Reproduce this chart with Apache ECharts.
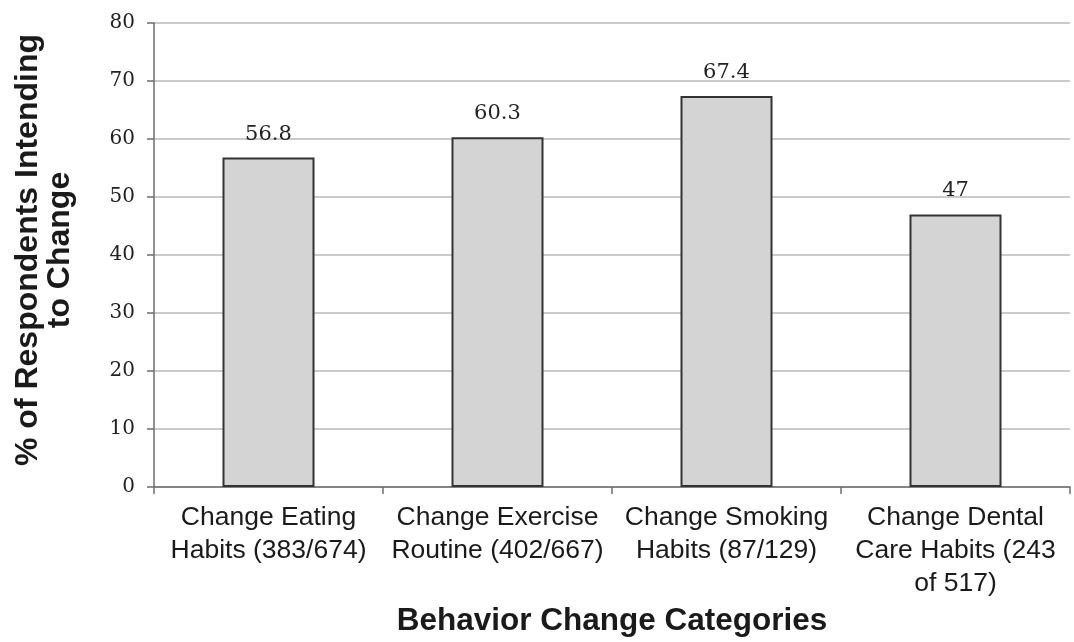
<!DOCTYPE html>
<html>
<head>
<meta charset="utf-8">
<script src="https://cdn.jsdelivr.net/npm/echarts@6/dist/echarts.min.js"></script>
<style>
  html, body { margin: 0; padding: 0; background: #fff; }
  #chart { width: 1074px; height: 642px; }
</style>
</head>
<body>
<div id="chart"></div>
<script>
// Behavior-change intentions by category
const categories = [
  'Change Eating\nHabits (383/674)',
  'Change Exercise\nRoutine (402/667)',
  'Change Smoking\nHabits (87/129)',
  'Change Dental\nCare Habits (243\nof 517)'
];
const percentIntending = [56.8, 60.3, 67.4, 47];
const yTicks = { min: 0, max: 80, step: 10 };

const chart = echarts.init(document.getElementById('chart'));

chart.setOption({
  animation: false,
  backgroundColor: '#ffffff',
  grid: { left: 154, right: 4, top: 23, bottom: 155, containLabel: false },
  xAxis: {
    type: 'category',
    data: categories,
    name: 'Behavior Change Categories',
    nameLocation: 'middle',
    nameGap: 117,
    nameTextStyle: {
      fontFamily: 'Liberation Sans, Arial, sans-serif',
      fontSize: 31.5,
      fontWeight: 'bold',
      color: '#1a1a1a'
    },
    axisLine: { show: true, lineStyle: { color: '#6e6e6e', width: 1.5 } },
    axisTick: { show: true, length: 7, alignWithLabel: false, lineStyle: { color: '#6e6e6e', width: 1.5 } },
    axisLabel: {
      interval: 0,
      margin: 14,
      fontFamily: 'Liberation Sans, Arial, sans-serif',
      fontSize: 26.5,
      lineHeight: 33,
      color: '#1a1a1a',
      align: 'center'
    },
    splitLine: { show: false }
  },
  yAxis: {
    type: 'value',
    min: yTicks.min,
    max: yTicks.max,
    interval: yTicks.step,
    name: '% of Respondents Intending\nto Change',
    nameLocation: 'middle',
    nameGap: 78,
    nameTextStyle: {
      fontFamily: 'Liberation Sans, Arial, sans-serif',
      fontSize: 32,
      fontWeight: 'bold',
      lineHeight: 32,
      color: '#1a1a1a',
      padding: [0, 0, 0, 10]
    },
    axisLine: { show: true, lineStyle: { color: '#6e6e6e', width: 1.5 } },
    axisTick: { show: true, length: 7, lineStyle: { color: '#6e6e6e', width: 1.5 } },
    axisLabel: {
      margin: 19,
      fontFamily: 'DejaVu Serif, serif',
      fontSize: 20,
      color: '#222222'
    },
    splitLine: { show: true, lineStyle: { color: '#b8b8b8', width: 1.5 } }
  },
  series: [{
    type: 'bar',
    data: percentIntending,
    barWidth: 92,
    itemStyle: { color: '#d4d4d4', borderColor: '#333333', borderWidth: 2 },
    label: {
      show: true,
      position: 'top',
      distance: 13,
      fontFamily: 'DejaVu Serif, serif',
      fontSize: 21,
      color: '#222222',
      formatter: p => String(p.value)
    }
  }]
});
</script>
</body>
</html>
